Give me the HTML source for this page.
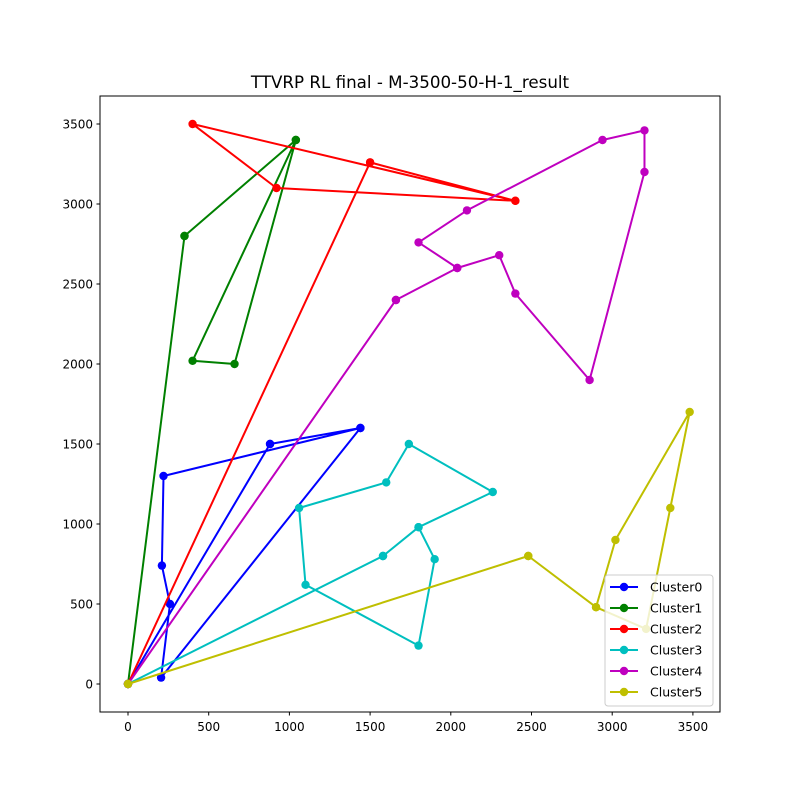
<!DOCTYPE html>
<html><head><meta charset="utf-8"><style>
body{margin:0;background:#fff}
svg{display:block;font-family:"DejaVu Sans","Liberation Sans",sans-serif}
</style></head><body>
<svg id="chart" width="800" height="800" xmlns="http://www.w3.org/2000/svg">
<rect width="800" height="800" fill="#fff"/>
<text x="410" y="88" font-size="16.7" text-anchor="middle">TTVRP RL final - M-3500-50-H-1_result</text>
<g id="plot"></g>
<rect x="100" y="96" width="620" height="616" fill="none" stroke="#000" stroke-width="1"/>
<g id="ticks"></g>
<g id="legend"></g>
</svg>
<script>
const clusterNames=["Cluster0","Cluster1","Cluster2","Cluster3","Cluster4","Cluster5"];
const clusterColors=["#0000ff","#008000","#ff0000","#00bfbf","#bf00bf","#bfbf00"];
const route0=[[0,0],[880,1500],[1440,1600],[220,1300],[210,740],[260,500],[205,40],[1440,1600],[880,1500],[0,0]];
const route1=[[0,0],[350,2800],[1040,3400],[400,2020],[660,2000],[1040,3400],[350,2800],[0,0]];
const route2=[[0,0],[1500,3260],[2400,3020],[920,3100],[400,3500],[2400,3020],[1500,3260],[0,0]];
const route3=[[0,0],[1580,800],[1800,980],[2260,1200],[1740,1500],[1600,1260],[1060,1100],[1100,620],[1800,240],[1900,780],[1800,980],[1580,800],[0,0]];
const route4=[[0,0],[1660,2400],[2040,2600],[1800,2760],[2100,2960],[2940,3400],[3200,3460],[3200,3200],[2860,1900],[2400,2440],[2300,2680],[2040,2600],[1660,2400],[0,0]];
const route5=[[0,0],[2480,800],[2900,480],[3210,344],[3360,1100],[3480,1700],[3020,900],[2900,480],[2480,800],[0,0]];
const xTicks=[0,500,1000,1500,2000,2500,3000,3500];
const yTicks=[0,500,1000,1500,2000,2500,3000,3500];
const routes=[route0,route1,route2,route3,route4,route5];

const NS="http://www.w3.org/2000/svg";
function X(v){return 128+v*0.1614;}
function Y(v){return 684-v*0.16;}
function mk(t,a,p){const e=document.createElementNS(NS,t);for(const k in a)e.setAttribute(k,a[k]);p.appendChild(e);return e;}
const plot=document.getElementById('plot');
routes.forEach((r,i)=>{
  const g=mk('g',{},plot);
  
  
  const pl=mk('polyline',{points:r.map(p=>X(p[0])+','+Y(p[1])).join(' '),fill:'none',stroke:clusterColors[i],'stroke-width':2,'stroke-linejoin':'round'},g);
  
  
  r.forEach(p=>{
    const c=mk('circle',{cx:X(p[0]),cy:Y(p[1]),r:4.2,fill:clusterColors[i]},g);
    
    
  });
});
const tk=document.getElementById('ticks');
xTicks.forEach(v=>{
  const l=mk('line',{x1:X(v),x2:X(v),y1:712,y2:715.5,stroke:'#000'},tk);
  
  
  const t=mk('text',{x:X(v),y:731,'font-size':12,'text-anchor':'middle'},tk);
  t.textContent=v;
  
  
});
yTicks.forEach(v=>{
  const l=mk('line',{x1:96.5,x2:100,y1:Y(v),y2:Y(v),stroke:'#000'},tk);
  
  
  const t=mk('text',{x:93,y:Y(v)+4.5,'font-size':12,'text-anchor':'end'},tk);
  t.textContent=v;
  
  
});
const lg=document.getElementById('legend');
const box=mk('rect',{x:605,y:575,width:108,height:131,rx:3,fill:'#fff','fill-opacity':0.8,stroke:'#ccc'},lg);


clusterNames.forEach((n,i)=>{
  const y=587+i*21;
  const g=mk('g',{},lg);
  
  
  mk('line',{x1:610,x2:638,y1:y,y2:y,stroke:clusterColors[i],'stroke-width':2},g);
  mk('circle',{cx:624,cy:y,r:4.2,fill:clusterColors[i]},g);
  const t=mk('text',{x:650,y:y+4.5,'font-size':12.5},g);
  t.textContent=n;
});
</script>
</body></html>
